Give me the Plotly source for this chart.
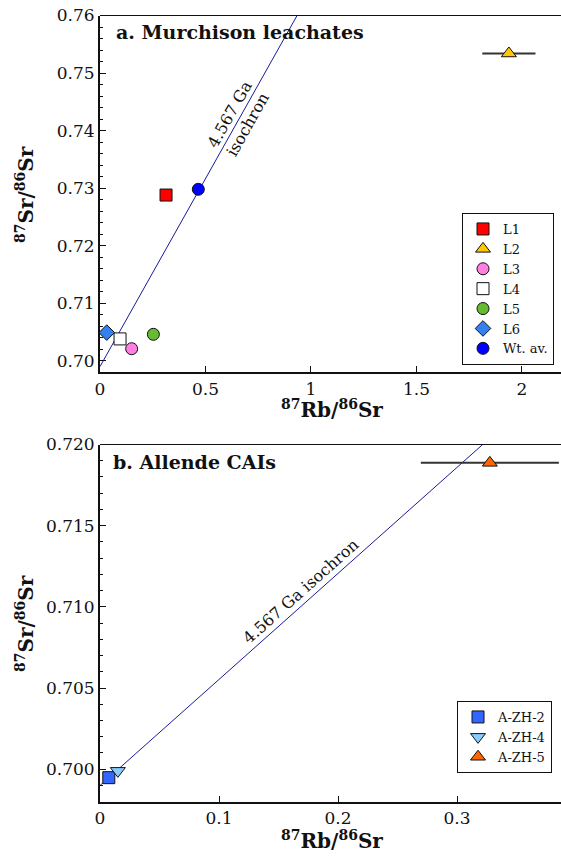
import plotly.graph_objects as go

# ---------------- data ----------------
# Panel a: Murchison leachates
A_NAMES = ["L1", "L2", "L3", "L4", "L5", "L6", "Wt. av."]
A_RB = [0.313, 1.938, 0.150, 0.095, 0.253, 0.032, 0.466]
A_SR = [0.7288, 0.7534, 0.7021, 0.7038, 0.7046, 0.7049, 0.7298]
A_XERR = [0, 0.126, 0, 0, 0, 0, 0]
A_SYMBOLS = ["square", "triangle-up", "circle", "square", "circle", "diamond", "circle"]
A_COLORS = ["#ff0000", "#ffc800", "#ff80e0", "#ffffff", "#66bb33", "#3380ee", "#0000ff"]
A_SIZES = [12, 13, 12, 12, 12, 12, 12]

# Panel b: Allende CAIs
B_NAMES = ["A-ZH-2", "A-ZH-4", "A-ZH-5"]
B_RB = [0.0074, 0.0150, 0.3276]
B_SR = [0.69948, 0.69990, 0.71887]
B_XERR = [0, 0, 0.058]
B_SYMBOLS = ["square", "triangle-down", "triangle-up"]
B_COLORS = ["#3366ff", "#88ccff", "#ff6600"]
B_SIZES = [12, 13, 13]

# 4.567 Ga isochron
ISO_INTERCEPT = 0.699
ISO_SLOPE = 0.0653
ISO_XA = [0.0, 1.2]
ISO_XB = [0.0, 0.45]

FONT = "DejaVu Serif"
W, H = 561, 858

fig = go.Figure()

# isochrons
fig.add_trace(go.Scatter(x=ISO_XA, y=[ISO_INTERCEPT + ISO_SLOPE * v for v in ISO_XA],
                         mode="lines", line=dict(color="#1a1a99", width=1),
                         showlegend=False, xaxis="x", yaxis="y", hoverinfo="skip"))
fig.add_trace(go.Scatter(x=ISO_XB, y=[ISO_INTERCEPT + ISO_SLOPE * v for v in ISO_XB],
                         mode="lines", line=dict(color="#1a1a99", width=1),
                         showlegend=False, xaxis="x2", yaxis="y2", hoverinfo="skip"))

for n, x, y, e, s, c, sz in zip(A_NAMES, A_RB, A_SR, A_XERR, A_SYMBOLS, A_COLORS, A_SIZES):
    fig.add_trace(go.Scatter(
        x=[x], y=[y], name=n, mode="markers", xaxis="x", yaxis="y", legend="legend",
        marker=dict(symbol=s, color=c, size=sz, line=dict(color="#111111", width=1)),
        error_x=dict(type="data", array=[e], visible=e > 0, color="#333333",
                     thickness=2, width=0)))

for n, x, y, e, s, c, sz in zip(B_NAMES, B_RB, B_SR, B_XERR, B_SYMBOLS, B_COLORS, B_SIZES):
    fig.add_trace(go.Scatter(
        x=[x], y=[y], name=n, mode="markers", xaxis="x2", yaxis="y2", legend="legend2",
        marker=dict(symbol=s, color=c, size=sz, line=dict(color="#111111", width=1)),
        error_x=dict(type="data", array=[e], visible=e > 0, color="#333333",
                     thickness=2, width=0)))

tickfont = dict(family=FONT, size=17, color="#111111")
xdom = [100 / W, 1.0]
ya_dom = [1 - 372.3 / H, 1 - 15.5 / H]
yb_dom = [1 - 801.7 / H, 1 - 444.5 / H]

common_x = dict(showgrid=False, zeroline=False, showline=True, linecolor="#111111",
                linewidth=2, ticks="inside", ticklen=6, tickcolor="#111111",
                tickfont=tickfont, domain=xdom, automargin=False)
common_y = dict(showgrid=False, zeroline=False, showline=True, linecolor="#111111",
                linewidth=2, ticks="inside", ticklen=6, tickcolor="#111111",
                tickfont=tickfont, automargin=False)

legfont = dict(family=FONT, size=13, color="#111111")
fig.update_layout(
    template="none",
    width=W, height=H,
    margin=dict(l=0, r=0, t=0, b=0, autoexpand=False),
    paper_bgcolor="white", plot_bgcolor="white",
    font=dict(family=FONT, color="#111111"),
    xaxis=dict(common_x, range=[0, 2.185], tickvals=[0, 0.5, 1, 1.5, 2],
               ticktext=["0", "0.5", "1", "1.5", "2"], anchor="y"),
    yaxis=dict(common_y, range=[0.698, 0.76], domain=ya_dom, dtick=0.01,
               tickformat=".2f", anchor="x",
               minor=dict(dtick=0.002, ticks="inside", ticklen=3, tickcolor="#111111")),
    xaxis2=dict(common_x, range=[0, 0.3874], tickvals=[0, 0.1, 0.2, 0.3],
                ticktext=["0", "0.1", "0.2", "0.3"], anchor="y2"),
    yaxis2=dict(common_y, range=[0.698, 0.720], domain=yb_dom, dtick=0.005,
                tickformat=".3f", anchor="x2",
                minor=dict(dtick=0.001, ticks="inside", ticklen=3, tickcolor="#111111")),
    legend=dict(x=554 / W, xanchor="right", y=1 - 213 / H, yanchor="top",
                bordercolor="#111111", borderwidth=1, bgcolor="white",
                font=legfont, tracegroupgap=0, itemwidth=30),
    legend2=dict(x=552 / W, xanchor="right", y=1 - 701 / H, yanchor="top",
                 bordercolor="#111111", borderwidth=1, bgcolor="white",
                 font=legfont, tracegroupgap=0, itemwidth=30),
    showlegend=True,
)

# thin top spines
for yd in (ya_dom, yb_dom):
    fig.add_shape(type="line", xref="paper", yref="paper", x0=xdom[0], x1=1,
                  y0=yd[1], y1=yd[1], line=dict(color="#111111", width=1))

ann = []
# panel titles
ann.append(dict(text="<b>a. Murchison leachates</b>", xref="paper", yref="paper",
                x=114 / W, y=1 - 32 / H, xanchor="left", yanchor="middle",
                showarrow=False, font=dict(family=FONT, size=19, color="#111111")))
ann.append(dict(text="<b>b. Allende CAIs</b>", xref="paper", yref="paper",
                x=111 / W, y=1 - 462 / H, xanchor="left", yanchor="middle",
                showarrow=False, font=dict(family=FONT, size=19, color="#111111")))
# axis titles
for yc in (409, 840):
    ann.append(dict(text="<b><sup>87</sup>Rb/<sup>86</sup>Sr</b>", xref="paper", yref="paper",
                    x=332 / W, y=1 - yc / H, xanchor="center", yanchor="middle",
                    showarrow=False, font=dict(family=FONT, size=20, color="#111111")))
for yc in (195, 624):
    ann.append(dict(text="<b><sup>87</sup>Sr/<sup>86</sup>Sr</b>", xref="paper", yref="paper",
                    x=25 / W, y=1 - yc / H, xanchor="center", yanchor="middle",
                    textangle=-90, showarrow=False,
                    font=dict(family=FONT, size=20, color="#111111")))
# isochron labels
ann.append(dict(text="4.567 Ga<br>isochron", xref="x", yref="y", x=0.659, y=0.7420,
                textangle=-60.7, showarrow=False,
                font=dict(family=FONT, size=16, color="#111111")))
ann.append(dict(text="4.567 Ga isochron", xref="x2", yref="y2", x=0.1685, y=0.71093,
                textangle=-41.7, showarrow=False,
                font=dict(family=FONT, size=16, color="#111111")))
fig.update_layout(annotations=ann)

fig.write_html("out.html", config={"displayModeBar": False},
               post_script="document.body.style.margin='0';document.body.style.overflow='hidden';")
